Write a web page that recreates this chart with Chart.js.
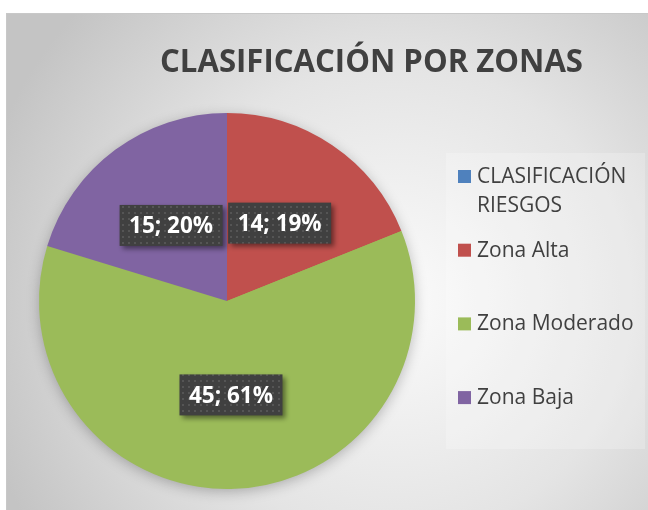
<!DOCTYPE html>
<html>
<head>
<meta charset="utf-8">
<script src="https://cdn.jsdelivr.net/npm/chart.js@4.4.1/dist/chart.umd.min.js"></script>
<style>
  html,body{margin:0;padding:0;background:#fff}
  #wrap{width:648px;height:510px}
</style>
</head>
<body>
<div id="wrap"><canvas id="pie" width="648" height="510"></canvas></div>
<script>
/* ── Data ── */
const categories=['CLASIFICACIÓN RIESGOS','Zona Alta','Zona Moderado','Zona Baja'];
const values=[0,14,45,15];
const sliceColors=['#4f81bd','#c0504d','#9bbb59','#8064a2'];
const chartTitle='CLASIFICACIÓN POR ZONAS';

const TEXT='#404040';
const FONT='"Open Sans", "Liberation Sans", sans-serif';
const total=values.reduce((a,b)=>a+b,0);

/* dotted fill for the data label boxes */
function dotPattern(ctx){
  const c=document.createElement('canvas');
  c.width=6;c.height=6;
  const g=c.getContext('2d');
  g.fillStyle='#404040';g.fillRect(0,0,6,6);
  g.fillStyle='#555555';g.fillRect(2,2,2,2);
  return ctx.createPattern(c,'repeat');
}

/* ── Background panel + title ── */
const panelBg={
  id:'panelBg',
  beforeDraw(chart){
    const ctx=chart.ctx;
    ctx.save();
    ctx.fillStyle='#fff';
    ctx.fillRect(0,0,chart.width,chart.height);
    const g=ctx.createRadialGradient(395,300,0,395,300,430);
    g.addColorStop(0,'#fbfbfb');
    g.addColorStop(0.55,'#e4e4e4');
    g.addColorStop(1,'#c4c4c4');
    ctx.fillStyle=g;
    ctx.fillRect(7,14,641,496);
    ctx.strokeStyle='#c8c8c8';ctx.lineWidth=1;
    ctx.strokeRect(6.5,13.5,642,497);
    // legend backing
    ctx.fillStyle='rgba(255,255,255,0.22)';
    ctx.fillRect(446,153,199,296);
    // title
    ctx.fillStyle=TEXT;
    ctx.font='bold 32px '+FONT;
    ctx.textAlign='center';ctx.textBaseline='alphabetic';
    ctx.fillText(chartTitle,371.5,72,423);
    ctx.restore();
  }
};

/* ── Soft shadow under the pie ── */
const pieShadow={
  id:'pieShadow',
  beforeDatasetsDraw(chart){
    const arc=chart.getDatasetMeta(0).data[0];
    if(!arc)return;
    const ctx=chart.ctx;
    ctx.save();
    ctx.shadowColor='rgba(0,0,0,0.28)';
    ctx.shadowBlur=14;ctx.shadowOffsetY=3;
    ctx.fillStyle='#9bbb59';
    ctx.beginPath();
    ctx.arc(arc.x,arc.y,arc.outerRadius-1,0,Math.PI*2);
    ctx.fill();
    ctx.restore();
  }
};

/* ── "value; pct" boxes ── */
const boxLabels={
  id:'boxLabels',
  afterDatasetsDraw(chart){
    const ctx=chart.ctx;
    const meta=chart.getDatasetMeta(0);
    const pat=dotPattern(ctx);
    ctx.save();
    ctx.font='bold 22.5px '+FONT;
    meta.data.forEach((arc,i)=>{
      const v=values[i];
      if(!v)return;
      const txt=v+'; '+Math.round(v/total*100)+'%';
      const p=arc.getCenterPoint();
      const w=ctx.measureText(txt).width+19,h=41;
      const x=p.x-w/2,y=p.y-h/2;
      ctx.save();
      ctx.shadowColor='rgba(0,0,0,0.45)';
      ctx.shadowBlur=5;ctx.shadowOffsetX=3;ctx.shadowOffsetY=3;
      ctx.fillStyle=pat;
      ctx.fillRect(x,y,w,h);
      ctx.restore();
      ctx.fillStyle='#fff';
      ctx.textAlign='center';ctx.textBaseline='alphabetic';
      ctx.fillText(txt,p.x,p.y+8);
    });
    ctx.restore();
  }
};

/* ── Legend on the right, wraps long names ── */
const sideLegend={
  id:'sideLegend',
  afterDraw(chart){
    const ctx=chart.ctx;
    ctx.save();
    ctx.font='21px '+FONT;
    ctx.textAlign='left';ctx.textBaseline='alphabetic';
    const x0=458,tx=477,maxW=162,top=183,step=73.7,lh=29;
    categories.forEach((name,i)=>{
      const words=name.split(' ');
      const lines=[];let cur='';
      words.forEach(wd=>{
        const t=cur?cur+' '+wd:wd;
        if(ctx.measureText(t).width>maxW&&cur){lines.push(cur);cur=wd;}
        else cur=t;
      });
      lines.push(cur);
      const by=top+i*step;
      ctx.fillStyle=sliceColors[i];
      ctx.fillRect(x0,by-13,13,13);
      ctx.fillStyle=TEXT;
      lines.forEach((ln,j)=>ctx.fillText(ln,tx,by+j*lh));
    });
    ctx.restore();
  }
};

new Chart(document.getElementById('pie'),{
  type:'pie',
  data:{
    labels:categories,
    datasets:[{
      data:values,
      backgroundColor:sliceColors,
      borderWidth:0
    }]
  },
  options:{
    responsive:false,
    animation:false,
    devicePixelRatio:1,
    layout:{padding:{left:39,right:233,top:113,bottom:21}},
    plugins:{legend:{display:false},tooltip:{enabled:false},title:{display:false}}
  },
  plugins:[panelBg,pieShadow,boxLabels,sideLegend]
});
</script>
</body>
</html>
